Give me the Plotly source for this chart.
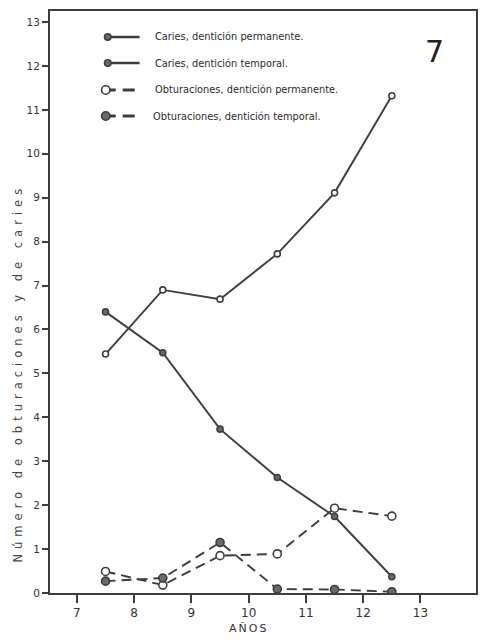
import plotly.graph_objects as go

# Ages (years) at which each group was examined
edades = [7.5, 8.5, 9.5, 10.5, 11.5, 12.5]

# Mean number of caries / fillings per child
caries_permanente = [5.44, 6.90, 6.69, 7.72, 9.11, 11.32]
caries_temporal = [6.40, 5.47, 3.73, 2.63, 1.74, 0.37]
obturaciones_permanente = [0.49, 0.18, 0.85, 0.89, 1.93, 1.75]
obturaciones_temporal = [0.27, 0.34, 1.15, 0.09, 0.08, 0.03]

x_ticks = [7, 8, 9, 10, 11, 12, 13]
y_ticks = list(range(0, 14))

nombres = [
    "Caries, dentición permanente.",
    "Caries, dentición temporal.",
    "Obturaciones, dentición permanente.",
    "Obturaciones, dentición temporal.",
]

INK = "#3d3d3d"
W, H = 482, 641
L, R, T, B = 50, 4, 11, 48

series = [
    (caries_permanente, "solid", "white", 6),
    (caries_temporal, "solid", "#6a6a6a", 6),
    (obturaciones_permanente, "10px,6px", "white", 8),
    (obturaciones_temporal, "10px,6px", "#6a6a6a", 8),
]

fig = go.Figure()
for (vals, dash, fill, size), name in zip(series, nombres):
    fig.add_trace(go.Scatter(
        x=edades, y=vals, name=name, mode="lines+markers",
        line=dict(color=INK, width=1.9, dash=dash),
        marker=dict(symbol="circle", size=size, color=fill,
                    line=dict(color=INK, width=1.6)),
        showlegend=False,
    ))

# Hand-drawn key in the upper left
pw, ph = W - L - R, H - T - B
def px(x):
    return (x - L) / pw
def py(y):
    return 1 - (y - T) / ph

shapes = []
annotations = []
rows = [37, 63, 90, 116]
for i, (yy, (vals, dash, fill, size), name) in enumerate(zip(rows, series, nombres)):
    x0 = 106 if i < 2 else 104
    shapes.append(dict(type="line", xref="paper", yref="paper",
                       x0=px(x0), x1=px(140), y0=py(yy), y1=py(yy),
                       line=dict(color=INK, width=2.5 if i < 2 else 3,
                                 dash="solid" if i < 2 else "12px,7px")))
    r = 3.2 if i < 2 else 4.2
    shapes.append(dict(type="circle", xref="paper", yref="paper",
                       x0=px(x0 + 2 - r), x1=px(x0 + 2 + r),
                       y0=py(yy + r), y1=py(yy - r),
                       fillcolor="#6a6a6a" if i != 2 else "white",
                       line=dict(color=INK, width=1.6)))
    annotations.append(dict(text=name, xref="paper", yref="paper",
                            x=px(153 if i < 3 else 151), y=py(yy),
                            xanchor="left", yanchor="middle", showarrow=False,
                            font=dict(family="DejaVu Sans", size=9.8, color="#2a2a2a")))

annotations.append(dict(text="7", xref="paper", yref="paper", x=px(436), y=py(52),
                        xanchor="center", yanchor="middle", showarrow=False,
                        font=dict(family="DejaVu Sans", size=30, color="#222")))
annotations.append(dict(text='<span style="letter-spacing:2px">AÑOS</span>',
                        xref="x", yref="paper", x=10, y=py(628),
                        xanchor="center", yanchor="middle", showarrow=False,
                        font=dict(family="DejaVu Sans", size=11, color="#333")))
annotations.append(dict(text='<span style="letter-spacing:5px">Número de obturaciones y de caries</span>',
                        xref="paper", yref="y",
                        x=px(18), y=5.0, textangle=-90, xanchor="center", yanchor="middle",
                        showarrow=False,
                        font=dict(family="DejaVu Sans", size=11.5, color="#444")))

fig.update_layout(
    width=W, height=H,
    margin=dict(l=L, r=R, t=T, b=B),
    paper_bgcolor="white", plot_bgcolor="white",
    shapes=shapes, annotations=annotations,
    xaxis=dict(range=[6.53, 13.97], tickvals=x_ticks, ticktext=[str(v) for v in x_ticks],
               showgrid=False, zeroline=False, showline=True, linecolor=INK, linewidth=2,
               mirror=True, ticks="outside", ticklen=8, tickwidth=1.5, tickcolor=INK,
               tickfont=dict(family="DejaVu Sans", size=12, color="#333")),
    yaxis=dict(range=[0, 13.25], tickvals=y_ticks, ticktext=[str(v) for v in y_ticks],
               showgrid=False, zeroline=False, showline=True, linecolor=INK, linewidth=2,
               mirror=True, ticks="outside", ticklen=6, tickwidth=1.5, tickcolor=INK,
               tickfont=dict(family="DejaVu Sans", size=10.5, color="#333")),
)

fig.write_html("out.html")
